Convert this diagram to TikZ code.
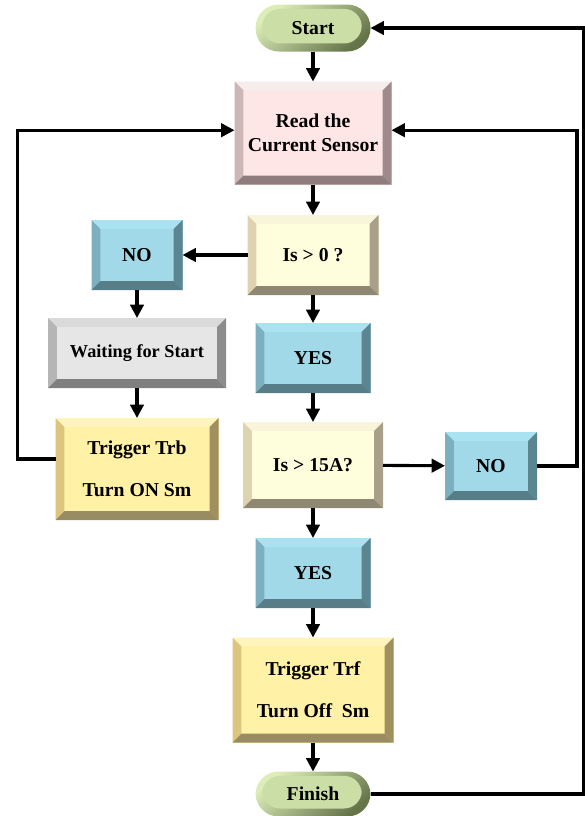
\documentclass[tikz,border=0pt]{standalone}
\usepackage{fontspec}
\setmainfont{Liberation Serif}
\usetikzlibrary{arrows.meta}
\definecolor{termlight}{HTML}{DCEDB8}
\definecolor{termdark}{HTML}{66744A}
\definecolor{termface}{HTML}{CBDEA6}
\definecolor{readface}{HTML}{FEE6E6}
\definecolor{readtop}{HTML}{F5ECEC}
\definecolor{readleft}{HTML}{CDB6B6}
\definecolor{readright}{HTML}{9E8A8A}
\definecolor{readbot}{HTML}{8F7C7C}
\definecolor{askface}{HTML}{FFFEDC}
\definecolor{asktop}{HTML}{F8F5DA}
\definecolor{askleft}{HTML}{DDD3B0}
\definecolor{askright}{HTML}{A8A088}
\definecolor{askbot}{HTML}{8E8873}
\definecolor{ansface}{HTML}{A2D9E8}
\definecolor{anstop}{HTML}{A9E3F2}
\definecolor{ansleft}{HTML}{7CB0BE}
\definecolor{ansright}{HTML}{5B8590}
\definecolor{ansbot}{HTML}{577D88}
\definecolor{waitface}{HTML}{E6E6E6}
\definecolor{waittop}{HTML}{DADADA}
\definecolor{waitleft}{HTML}{B5B5B5}
\definecolor{waitright}{HTML}{8C8C8C}
\definecolor{waitbot}{HTML}{7F7F7F}
\definecolor{trigface}{HTML}{FFF1A5}
\definecolor{trigtop}{HTML}{FFF5BC}
\definecolor{trigleft}{HTML}{DCC67E}
\definecolor{trigright}{HTML}{A0905F}
\definecolor{trigbot}{HTML}{998B62}
\newcommand{\bev}{0.22cm}
\tikzset{
    boxsize/.style 2 args={minimum width=#1*0.025cm, minimum height=#2*0.025cm},
    bevel/.style n args={5}{
        rectangle, inner sep=0pt, outer sep=0pt, align=center,
        font=\bfseries\fontsize{14}{17}\selectfont, fill=#1,
        path picture={
            \coordinate (bNW) at (path picture bounding box.north west);
            \coordinate (bNE) at (path picture bounding box.north east);
            \coordinate (bSW) at (path picture bounding box.south west);
            \coordinate (bSE) at (path picture bounding box.south east);
            \fill[#2] (bNW) -- (bNE) -- ([xshift=-\bev, yshift=-\bev]bNE) -- ([xshift=\bev, yshift=-\bev]bNW) -- cycle;
            \fill[#3] (bNW) -- (bSW) -- ([xshift=\bev, yshift=\bev]bSW) -- ([xshift=\bev, yshift=-\bev]bNW) -- cycle;
            \fill[#4] (bNE) -- (bSE) -- ([xshift=-\bev, yshift=\bev]bSE) -- ([xshift=-\bev, yshift=-\bev]bNE) -- cycle;
            \fill[#5] (bSW) -- (bSE) -- ([xshift=-\bev, yshift=\bev]bSE) -- ([xshift=\bev, yshift=\bev]bSW) -- cycle;
        },
    },
    process/.style={bevel={readface}{readtop}{readleft}{readright}{readbot}},
    question/.style={bevel={askface}{asktop}{askleft}{askright}{askbot}},
    answer/.style={bevel={ansface}{anstop}{ansleft}{ansright}{ansbot}},
    waiting/.style={bevel={waitface}{waittop}{waitleft}{waitright}{waitbot}},
    trigger/.style={bevel={trigface}{trigtop}{trigleft}{trigright}{trigbot}},
    terminal/.style={
        rectangle, rounded corners=0.58cm, inner sep=0pt, outer sep=0pt,
        font=\bfseries\fontsize{14}{17}\selectfont,
        top color=termlight, bottom color=termdark, shading angle=40,
        path picture={
            \fill[termface, rounded corners=0.44cm]
                ([xshift=0.17cm, yshift=-0.11cm]path picture bounding box.north west) rectangle
                ([xshift=-0.22cm, yshift=0.2cm]path picture bounding box.south east);
        },
    },
    flow/.style={line width=2.2pt, -{Triangle[length=9.5pt, width=9.5pt]}},
    link/.style={line width=2.2pt},
}

\begin{document}
\begin{tikzpicture}[x=0.025cm, y=-0.025cm]

\useasboundingbox (0,0) rectangle (585,816);

% ===== NODES =====
\node[terminal, boxsize={115}{47}] (start) at (313,28) {Start};
\node[process, boxsize={157}{103}] (read) at (313,133) {Read the\\Current Sensor};
\node[question, boxsize={131}{80}] (ask0) at (313,255) {Is > 0 ?};
\node[answer, boxsize={91}{70}] (noL) at (137,255) {NO};
\node[waiting, boxsize={178}{70}, font=\bfseries\fontsize{13}{16}\selectfont] (wait) at (137,353) {Waiting for Start};
\node[trigger, boxsize={163}{102}] (trb) at (137,469) {Trigger Trb\\[13pt]Turn ON Sm};
\node[answer, boxsize={115}{70}] (yes0) at (313,358) {YES};
\node[question, boxsize={140}{86}] (ask15) at (313,465) {Is > 15A?};
\node[answer, boxsize={92}{68}] (noR) at (491,466) {NO};
\node[answer, boxsize={115}{70}] (yes15) at (313,573) {YES};
\node[trigger, boxsize={161}{105}] (trf) at (313,690) {Trigger Trf\\[13pt]Turn Off~ Sm};
\node[terminal, boxsize={115}{45}] (finish) at (313,794) {Finish};

% ===== EDGES =====
\draw[flow] (start) -- (read);
\draw[flow] (read) -- (ask0);
\draw[flow] (ask0) -- (noL);
\draw[flow] (noL) -- (wait);
\draw[flow] (wait) -- (trb);
\draw[flow] ([yshift=0.25cm]trb.west) -- ++(-38,0) |- ([yshift=0.07cm]read.west);
\draw[flow] (ask0) -- (yes0);
\draw[flow] (yes0) -- (ask15);
\draw[flow] (ask15) -- (noR);
\draw[flow] (noR.east) -- ++(40,0) |- ([yshift=0.07cm]read.east);
\draw[flow] (ask15) -- (yes15);
\draw[flow] (yes15) -- (trf);
\draw[flow] (trf) -- (finish);
\draw[flow] (finish.east) -- ++(213,0) |- (start.east);

\end{tikzpicture}
\end{document}
